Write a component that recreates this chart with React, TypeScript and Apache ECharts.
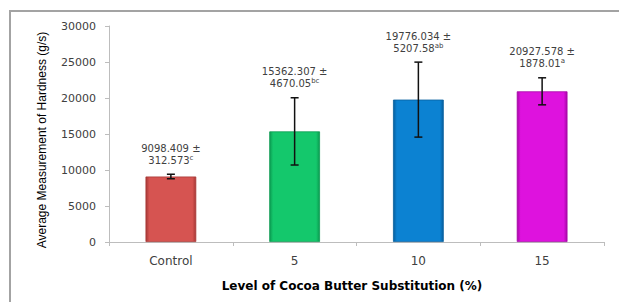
import React, { useEffect, useRef } from "react";
import * as echarts from "echarts";

const categories = ["Control", "5", "10", "15"];
const means = [9098.409, 15362.307, 19776.034, 20927.578];
const sds = [312.573, 4670.05, 5207.58, 1878.01];
const meanText = ["9098.409", "15362.307", "19776.034", "20927.578"];
const sdText = ["312.573", "4670.05", "5207.58", "1878.01"];
const letters = ["c", "bc", "ab", "a"];
const barColors = [
  ["#d65451", "#a83836"],
  ["#14c86c", "#0b9a50"],
  ["#0c82d2", "#075f9e"],
  ["#de12de", "#a808a8"],
];
const yTicks = { min: 0, max: 30000, interval: 5000 };

const FONT = "'Liberation Sans', Arial, sans-serif";
const WIDE = "'DejaVu Sans', Verdana, sans-serif";

export default function App() {
  const ref = useRef<HTMLDivElement>(null);
  useEffect(() => {
    if (!ref.current) return;
    const chart = echarts.init(ref.current, null, { renderer: "svg" });
    const barData = means.map((v, i) => ({
      value: v,
      itemStyle: {
        color: new echarts.graphic.LinearGradient(1, 0, 0, 0, [
          { offset: 0, color: barColors[i][1] },
          { offset: 0.07, color: barColors[i][0] },
          { offset: 0.93, color: barColors[i][0] },
          { offset: 1, color: barColors[i][1] },
        ]),
        borderColor: barColors[i][1],
        borderWidth: 0.8,
      },
    }));
    const errData = means.map((v, i) => [i, v - sds[i], v + sds[i]]);
    chart.setOption({
      animation: false,
      textStyle: { fontFamily: FONT },
      grid: { left: 109, right: 15, top: 26, bottom: 60 },
      xAxis: {
        type: "category",
        data: categories,
        axisLine: { show: true, lineStyle: { color: "#bdbdbd", width: 1 } },
        axisTick: { show: true, length: 4, lineStyle: { color: "#bdbdbd" } },
        axisLabel: { color: "#404040", fontSize: 12, margin: 13, fontFamily: WIDE },
      },
      yAxis: {
        type: "value",
        min: yTicks.min,
        max: yTicks.max,
        interval: yTicks.interval,
        splitLine: { show: false },
        axisLine: { show: true, lineStyle: { color: "#bdbdbd", width: 1 } },
        axisTick: { show: true, length: 4, lineStyle: { color: "#bdbdbd" } },
        axisLabel: {
          color: "#404040",
          fontSize: 11,
          margin: 13,
          fontFamily: WIDE,
          formatter: (v: number) => String(v),
        },
      },
      graphic: [
        {
          type: "rect",
          shape: { x: 10, y: 11, width: 800, height: 600 },
          style: { fill: "none", stroke: "#a3a3a3", lineWidth: 2 },
          silent: true,
        },
        {
          type: "text",
          x: 42,
          y: 140,
          rotation: Math.PI / 2,
          style: {
            text: "Average Measurement of Hardness (g/s)",
            font: `12px ${FONT}`,
            fill: "#000",
            textAlign: "center",
            textVerticalAlign: "middle",
          },
        },
        {
          type: "text",
          x: 352,
          y: 286,
          style: {
            text: "Level of Cocoa Butter Substitution (%)",
            font: `bold 12px ${WIDE}`,
            fill: "#000",
            textAlign: "center",
            textVerticalAlign: "middle",
          },
        },
      ],
      series: [
        {
          type: "bar",
          data: barData,
          barWidth: "41%",
        },
        {
          type: "custom",
          data: errData,
          z: 10,
          renderItem: (params: any, api: any) => {
            const i = api.value(0);
            const lo = api.coord([i, api.value(1)]);
            const hi = api.coord([i, api.value(2)]);
            const x = lo[0];
            const cw = 4;
            const st = { stroke: "#111", lineWidth: 1.5 };
            return {
              type: "group",
              children: [
                { type: "line", shape: { x1: x, y1: lo[1], x2: x, y2: hi[1] }, style: st },
                { type: "line", shape: { x1: x - cw, y1: lo[1], x2: x + cw, y2: lo[1] }, style: st },
                { type: "line", shape: { x1: x - cw, y1: hi[1], x2: x + cw, y2: hi[1] }, style: st },
                {
                  type: "text",
                  x: x,
                  y: hi[1] - 8,
                  style: {
                    text: `${meanText[i]} ±\n${sdText[i]}{s|${letters[i]}}`,
                    font: `10px ${WIDE}`,
                    fill: "#404040",
                    textAlign: "center",
                    textVerticalAlign: "bottom",
                    lineHeight: 12,
                    rich: {
                      s: { fontSize: 7, verticalAlign: "top", fill: "#404040", fontFamily: WIDE, lineHeight: 12, padding: [0, 0, 5, 0] },
                    },
                  },
                },
              ],
            };
          },
        },
      ],
    });
    return () => chart.dispose();
  }, []);
  return (
    <div
      ref={ref}
      style={{ position: "fixed", left: 0, top: 0, width: 619, height: 302, background: "#fff" }}
    />
  );
}
